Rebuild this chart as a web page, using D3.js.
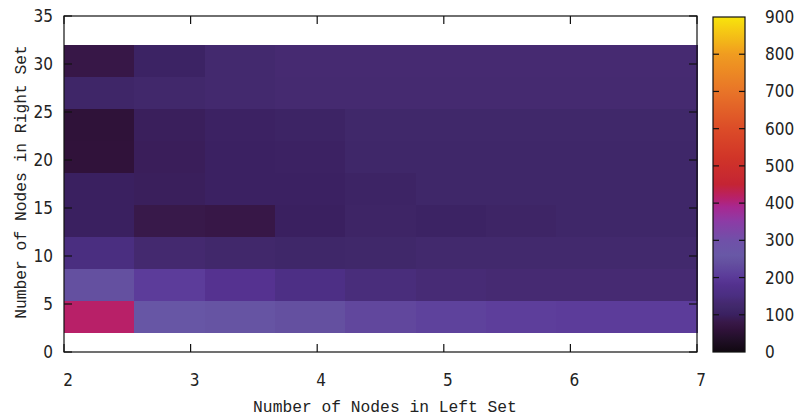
<!DOCTYPE html>
<html>
<head>
<meta charset="utf-8">
<script src="https://cdn.jsdelivr.net/npm/d3@7"></script>
<style>
  html, body { margin: 0; padding: 0; background: #fff; }
  svg { display: block; }
  .tick-label { font-family: "Liberation Sans Narrow", "DejaVu Sans Condensed", "Liberation Sans", sans-serif; font-size: 17px; fill: #222; }
  .axis-title { font-family: "Liberation Mono", "DejaVu Sans Mono", monospace; font-size: 16.3px; fill: #222; }
</style>
</head>
<body>
<svg id="chart" width="799" height="420"></svg>
<script>
// Grid edges of the measured cells (nodes in the left set along x, right set along y)
const leftEdges  = [2, 2.556, 3.111, 3.667, 4.222, 4.778, 5.333, 5.889, 6.444, 7];
const rightEdges = [2, 5.333, 8.667, 12, 15.333, 18.667, 22, 25.333, 28.667, 32];

// Cell values, one row per right-set band, from the bottom band upward
const values = [
  [415, 255, 250, 240, 225, 215, 208, 205, 205],
  [240, 205, 185, 160, 145, 138, 135, 135, 135],
  [150, 130, 122, 118, 120, 125, 125, 125, 125],
  [100,  82,  78, 100, 112, 108, 112, 118, 118],
  [100,  97, 103, 103, 110, 118, 118, 118, 118],
  [ 60,  95, 103, 105, 118, 118, 118, 118, 118],
  [ 58,  97, 105, 110, 120, 120, 120, 120, 120],
  [115, 122, 128, 132, 132, 132, 132, 132, 132],
  [ 78, 108, 128, 134, 134, 134, 134, 134, 134]
];

// Axis tick labels
const xTicks = [2, 3, 4, 5, 6, 7];
const yTicks = [0, 5, 10, 15, 20, 25, 30, 35];
const cbTicks = [0, 100, 200, 300, 400, 500, 600, 700, 800, 900];

const xTitle = "Number of Nodes in Left Set";
const yTitle = "Number of Nodes in Right Set";

// Colour palette (value -> colour)
const paletteStops = [
  [0, "#100810"], [40, "#24102c"], [60, "#30123a"], [80, "#381848"],
  [100, "#3a2060"], [120, "#40286a"], [135, "#462a72"], [150, "#4a2e80"],
  [185, "#553290"], [205, "#5c3c9a"], [240, "#6450a0"], [260, "#6858a6"],
  [300, "#7050a8"], [350, "#8c3ca6"], [390, "#a82890"], [415, "#b82068"],
  [450, "#c42434"], [520, "#d03428"], [600, "#dc4c28"], [700, "#e87428"],
  [800, "#f09c20"], [900, "#f8e40c"]
];

const svg = d3.select("#chart");

const plot = { left: 64, right: 697, top: 16, bottom: 352 };
const x = d3.scaleLinear().domain([2, 7]).range([plot.left, plot.right]);
const y = d3.scaleLinear().domain([0, 35]).range([plot.bottom, plot.top]);
const color = d3.scaleLinear()
  .domain(paletteStops.map(d => d[0]))
  .range(paletteStops.map(d => d[1]))
  .interpolate(d3.interpolateRgb)
  .clamp(true);

// Heat map cells
const cells = [];
values.forEach((row, ri) => {
  row.forEach((v, ci) => {
    cells.push({ x0: leftEdges[ci], x1: leftEdges[ci + 1], y0: rightEdges[ri], y1: rightEdges[ri + 1], v });
  });
});
svg.append("g").selectAll("rect").data(cells).join("rect")
  .attr("x", d => x(d.x0))
  .attr("y", d => y(d.y1))
  .attr("width", d => x(d.x1) - x(d.x0) + 0.5)
  .attr("height", d => y(d.y0) - y(d.y1) + 0.5)
  .attr("fill", d => color(d.v))
  .attr("shape-rendering", "crispEdges");

// Frame and inward ticks
const frame = svg.append("g").attr("stroke", "#111").attr("stroke-width", 1.2).attr("fill", "none");
frame.append("rect")
  .attr("x", plot.left).attr("y", plot.top)
  .attr("width", plot.right - plot.left).attr("height", plot.bottom - plot.top);
const tl = 8;
xTicks.forEach(t => {
  frame.append("line").attr("x1", x(t)).attr("x2", x(t)).attr("y1", plot.bottom).attr("y2", plot.bottom - tl);
  frame.append("line").attr("x1", x(t)).attr("x2", x(t)).attr("y1", plot.top).attr("y2", plot.top + tl);
});
yTicks.forEach(t => {
  frame.append("line").attr("x1", plot.left).attr("x2", plot.left + tl).attr("y1", y(t)).attr("y2", y(t));
  frame.append("line").attr("x1", plot.right).attr("x2", plot.right - tl).attr("y1", y(t)).attr("y2", y(t));
});

// Tick labels
svg.append("g").selectAll("text").data(xTicks).join("text")
  .attr("class", "tick-label")
  .attr("x", d => x(d) + 4)
  .attr("y", 386)
  .attr("text-anchor", "middle")
  .text(d => d);
svg.append("g").selectAll("text").data(yTicks).join("text")
  .attr("class", "tick-label")
  .attr("x", 53)
  .attr("y", d => y(d) + 6)
  .attr("text-anchor", "end")
  .text(d => d);

// Axis titles
svg.append("text").attr("class", "axis-title")
  .attr("x", 385).attr("y", 412).attr("text-anchor", "middle").text(xTitle);
svg.append("text").attr("class", "axis-title")
  .attr("transform", "translate(26,182) rotate(-90)")
  .attr("text-anchor", "middle").text(yTitle);

// Colour bar
const cb = { left: 713, right: 745, top: 17, bottom: 352 };
const cbScale = d3.scaleLinear().domain([0, 900]).range([cb.bottom, cb.top]);
const grad = svg.append("defs").append("linearGradient")
  .attr("id", "cbgrad").attr("x1", 0).attr("y1", 1).attr("x2", 0).attr("y2", 0);
d3.range(0, 901, 10).forEach(v => {
  grad.append("stop").attr("offset", v / 900).attr("stop-color", color(v));
});
svg.append("rect")
  .attr("x", cb.left).attr("y", cb.top)
  .attr("width", cb.right - cb.left).attr("height", cb.bottom - cb.top)
  .attr("fill", "url(#cbgrad)")
  .attr("stroke", "#111").attr("stroke-width", 1.2);
const cbt = svg.append("g").attr("stroke", "#111").attr("stroke-width", 1.2);
cbTicks.slice(1, -1).forEach(t => {
  cbt.append("line").attr("x1", cb.left).attr("x2", cb.left + 6).attr("y1", cbScale(t)).attr("y2", cbScale(t));
  cbt.append("line").attr("x1", cb.right).attr("x2", cb.right - 6).attr("y1", cbScale(t)).attr("y2", cbScale(t));
});
svg.append("g").selectAll("text").data(cbTicks).join("text")
  .attr("class", "tick-label")
  .attr("x", 765)
  .attr("y", d => cbScale(d) + 6)
  .attr("text-anchor", "start")
  .text(d => d);
</script>
</body>
</html>
